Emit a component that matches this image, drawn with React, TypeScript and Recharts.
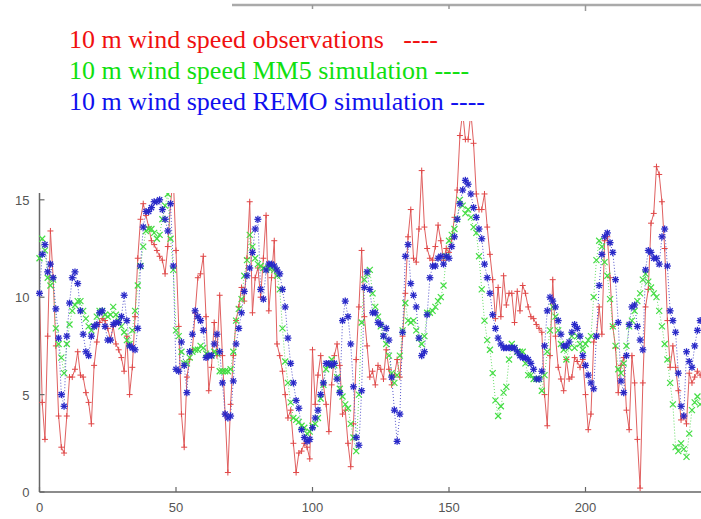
import { Line, LineChart, XAxis, YAxis } from 'recharts';

// 10 m wind speed (m/s), one value per hour
const obs = [
  10.2, 4.6, 2.7, 8.0, 13.4, 11.0, 7.5, 3.9, 2.3, 2.0,
  3.9, 5.9, 5.9, 6.3, 7.2, 6.0, 5.9, 5.1, 4.6, 3.5,
  6.5, 7.7, 8.7, 8.9, 8.8, 8.4, 7.8, 8.5, 7.6, 7.3,
  6.9, 6.2, 8.0, 5.0, 6.4, 9.0, 12.0, 14.0, 14.8, 14.2,
  13.6, 12.9, 12.7, 12.4, 12.1, 11.9, 11.2, 12.6, 14.8, 16.2,
  12.4, 8.5, 4.0, 2.3, 5.9, 6.8, 7.3, 9.2, 11.0, 11.2,
  12.1, 9.0, 5.2, 6.4, 8.7, 7.0, 10.1, 7.0, 4.0, 1.0,
  4.5, 7.0, 8.8, 9.5, 10.5, 9.8, 12.0, 14.9, 9.2, 11.0,
  11.5, 10.0, 12.0, 14.2, 9.3, 11.0, 12.9, 7.6, 7.0, 6.2,
  5.0, 3.8, 4.2, 2.5, 1.0, 2.0, 2.1, 2.5, 2.3, 1.7,
  7.3, 4.5, 6.0, 7.0, 5.5, 4.5, 3.1, 5.5, 7.0, 7.6,
  6.5, 4.0, 4.2, 2.5, 1.3, 3.5, 6.8, 9.5, 12.4, 9.0,
  7.5, 5.9, 6.2, 5.5, 6.5, 6.3, 5.8, 7.3, 6.3, 5.5,
  6.0, 6.8, 5.9, 8.0, 10.2, 13.1, 14.5, 12.0, 11.8, 13.5,
  16.5, 13.6, 12.5, 12.0, 11.9, 12.6, 13.7, 12.9, 11.9, 12.5,
  12.3, 13.0, 14.1, 15.5, 18.3, 19.5, 18.1, 18.1, 19.5, 17.9,
  15.3, 14.5, 14.5, 15.3, 13.6, 12.2, 10.9, 8.9, 10.5, 9.0,
  11.1, 9.6, 10.2, 10.2, 8.7, 10.3, 9.3, 10.6, 10.2, 9.5,
  9.0, 8.9, 8.6, 8.4, 8.2, 5.0, 3.4, 7.0, 10.9, 8.0,
  6.4, 5.8, 5.2, 6.8, 5.8, 5.9, 6.9, 6.7, 6.4, 6.8,
  5.0, 3.2, 4.0, 7.7, 8.0, 9.5, 8.1, 12.9, 13.1, 11.0,
  8.5, 7.4, 5.1, 6.5, 6.9, 4.2, 3.2, 7.0, 5.6, 2.7,
  0.2, 5.6, 9.5, 10.4, 13.8, 14.3, 16.7, 16.3, 14.9, 12.5,
  8.8, 6.4, 7.5, 6.4, 5.2, 3.7, 3.9, 3.5, 6.1, 5.6,
  5.9, 6.2, 6.0,
];

const mm5 = [
  12.0, 13.0, 12.4, 11.0, 10.6, 10.9, 8.4, 7.6, 6.9, 6.1,
  7.6, 8.6, 9.3, 9.6, 9.8, 9.8, 9.3, 8.9, 8.5, 8.3,
  8.5, 9.0, 9.3, 9.3, 9.1, 9.0, 9.1, 9.5, 9.1, 8.8,
  8.5, 8.2, 7.8, 7.6, 8.3, 9.3, 10.6, 11.6, 12.6, 13.4,
  13.5, 13.5, 13.3, 13.0, 13.2, 14.0, 14.7, 15.3, 13.0, 11.4,
  8.3, 8.0, 7.2, 6.6, 6.6, 6.9, 7.2, 7.3, 7.3, 7.5,
  7.4, 7.1, 7.0, 7.0, 7.2, 7.1, 6.2, 6.2, 6.2, 6.2,
  6.3, 7.2, 8.8, 9.4, 9.9, 11.1, 11.9, 13.2, 12.6, 12.0,
  11.7, 11.6, 11.5, 11.4, 11.5, 11.5, 11.4, 11.1, 10.4, 8.4,
  6.7, 5.6, 4.6, 3.8, 3.7, 3.6, 3.4, 3.3, 3.0, 3.1,
  3.4, 3.5, 3.8, 4.8, 5.5, 6.3, 6.5, 6.8, 6.5, 5.9,
  5.3, 4.9, 4.5, 4.3, 3.5, 2.8, 2.1, 5.0, 8.7, 10.9,
  11.2, 11.4, 10.2, 9.5, 9.0, 8.5, 8.0, 7.6, 7.0, 6.1,
  5.6, 6.0, 7.0, 8.3, 9.7, 8.8, 8.7, 8.8, 8.3, 7.9,
  7.6, 8.0, 9.2, 9.2, 9.3, 9.5, 9.8, 10.0, 10.6, 12.1,
  12.9, 13.2, 13.5, 14.0, 15.0, 14.7, 14.3, 14.5, 14.1, 13.6,
  13.3, 12.1, 10.4, 8.8, 7.8, 7.3, 6.1, 4.7, 3.9, 4.4,
  5.1, 5.4, 6.8, 7.6, 7.4, 7.2, 7.2, 7.2, 6.6, 6.0,
  6.0, 5.8, 5.8, 5.8, 5.2, 6.0, 7.2, 8.3, 9.5, 9.0,
  8.3, 7.6, 7.3, 6.8, 7.4, 8.0, 7.4, 8.0, 7.6, 7.3,
  7.6, 7.8, 8.0, 10.0, 11.9, 12.9, 12.6, 11.8, 11.1, 9.9,
  8.5, 7.5, 6.3, 6.1, 6.6, 7.5, 8.5, 8.8, 9.3, 9.8,
  10.2, 10.9, 11.2, 10.8, 10.5, 10.2, 10.0, 9.3, 8.5, 7.6,
  6.8, 5.6, 4.5, 2.3, 2.1, 2.5, 2.2, 1.8, 3.0, 4.2,
  4.6, 4.9, 4.5,
];

const remo = [
  10.2, 12.2, 12.7, 11.3, 11.7, 11.0, 9.4, 7.9, 5.0, 4.4,
  8.0, 9.7, 11.0, 11.3, 10.7, 9.3, 8.1, 7.2, 7.0, 8.0,
  8.5, 8.6, 9.2, 9.3, 8.5, 7.8, 7.8, 8.6, 8.7, 8.7,
  9.0, 10.1, 8.8, 7.5, 7.4, 7.3, 8.4, 11.6, 13.6, 14.4,
  14.4, 14.6, 14.9, 14.9, 15.0, 14.5, 14.0, 13.4, 14.8, 11.6,
  6.3, 6.2, 7.7, 6.5, 5.1, 7.2, 8.1, 9.3, 9.0, 8.8,
  8.3, 6.9, 7.0, 7.0, 7.6, 8.1, 7.2, 5.6, 4.0, 3.8,
  3.9, 5.7, 7.6, 8.4, 9.2, 10.3, 11.1, 11.5, 12.3, 13.5,
  14.0, 10.4, 9.9, 11.4, 11.7, 11.7, 11.6, 11.4, 11.2, 10.4,
  9.5, 7.9, 6.6, 5.6, 4.7, 4.3, 3.2, 2.8, 2.6, 2.7,
  3.3, 3.8, 4.2, 5.0, 5.6, 6.6, 6.6, 6.5, 6.6, 5.8,
  5.1, 8.8, 9.8, 9.0, 7.6, 5.4, 2.8, 2.4, 5.2, 10.5,
  11.3, 10.4, 9.2, 9.2, 8.7, 8.6, 8.0, 8.4, 7.8, 5.9,
  4.2, 2.6, 4.0, 8.2, 12.1, 12.7, 10.7, 10.1, 9.5, 7.9,
  7.0, 7.2, 9.1, 11.0, 11.6, 11.6, 12.0, 12.1, 11.7, 12.1,
  12.0, 12.6, 13.1, 14.0, 14.8, 15.5, 16.0, 15.8, 15.3, 14.6,
  14.1, 13.5, 13.0, 11.7, 11.0, 10.2, 9.1, 8.4, 7.9, 7.6,
  7.4, 7.4, 7.4, 7.4, 7.4, 7.2, 7.0, 6.9, 6.9, 6.8,
  6.6, 6.3, 5.8, 5.8, 6.2, 7.5, 9.3, 10.0, 9.8, 9.5,
  8.8, 8.1, 7.5, 7.5, 7.7, 8.2, 8.6, 8.4, 8.0, 7.0,
  6.5, 6.0, 5.6, 5.3, 8.0, 10.6, 12.2, 13.1, 13.3, 12.8,
  12.3, 10.9, 8.7, 5.7, 5.1, 7.0, 8.6, 9.5, 9.6, 8.5,
  7.8, 7.3, 11.4, 12.4, 12.3, 12.0, 12.0, 11.7, 13.1, 13.5,
  11.6, 9.3, 8.8, 8.2, 6.1, 4.4, 3.9, 7.2, 6.7, 6.4,
  7.5, 8.3, 8.8,
];

const xTicks = [0, 50, 100, 150, 200];
const topTicks = [100, 150, 200];
const yTicks = [0, 5, 10, 15];

const legendLines = [
  { text: '10 m wind speed observations   ----', color: '#f01010' },
  { text: '10 m wind speed MM5 simulation ----', color: '#10e010' },
  { text: '10 m wind speed REMO simulation ----', color: '#1010ee' },
];

const data = obs.map((v, i) => ({ hour: i, obs: v, mm5: mm5[i], remo: remo[i] }));

const labelStyle = { fontFamily: 'Liberation Sans, Arial, sans-serif', fontSize: 13, fill: '#555' };

function BottomTick({ x, y, payload }: any) {
  return (
    <g>
      <line x1={x} x2={x} y1={y} y2={y - 5} stroke="#666" strokeWidth={1.2} />
      <text x={x} y={y + 20} textAnchor="middle" {...labelStyle}>
        {payload.value}
      </text>
    </g>
  );
}

function TopTick({ x, y }: any) {
  return <line x1={x} x2={x} y1={y} y2={y + 6} stroke="#999" strokeWidth={1.5} />;
}

function LeftTick({ x, y, payload }: any) {
  return (
    <g>
      <line x1={x} x2={x + 5} y1={y} y2={y} stroke="#666" strokeWidth={1.2} />
      <text x={x - 10} y={y + 5} textAnchor="end" {...labelStyle}>
        {payload.value}
      </text>
    </g>
  );
}

function PlusDot({ cx, cy }: any) {
  if (cx == null || cy == null) return null;
  return (
    <g stroke="#e04848" strokeWidth={1}>
      <line x1={cx - 3} x2={cx + 3} y1={cy} y2={cy} />
      <line x1={cx} x2={cx} y1={cy - 3} y2={cy + 3} />
    </g>
  );
}

function CrossDot({ cx, cy }: any) {
  if (cx == null || cy == null) return null;
  return (
    <g stroke="#44dd44" strokeWidth={1.2}>
      <line x1={cx - 3} x2={cx + 3} y1={cy - 3} y2={cy + 3} />
      <line x1={cx - 3} x2={cx + 3} y1={cy + 3} y2={cy - 3} />
    </g>
  );
}

function StarDot({ cx, cy }: any) {
  if (cx == null || cy == null) return null;
  return (
    <g stroke="#2828c8" strokeWidth={1.3}>
      <line x1={cx - 3.5} x2={cx + 3.5} y1={cy} y2={cy} />
      <line x1={cx} x2={cx} y1={cy - 3.5} y2={cy + 3.5} />
      <line x1={cx - 2.6} x2={cx + 2.6} y1={cy - 2.6} y2={cy + 2.6} />
      <line x1={cx - 2.6} x2={cx + 2.6} y1={cy + 2.6} y2={cy - 2.6} />
    </g>
  );
}

export default function App() {
  return (
    <div
      style={{
        position: 'absolute',
        left: 0,
        top: 0,
        width: 701,
        height: 519,
        overflow: 'hidden',
        background: '#fff',
      }}
    >
      <LineChart width={722} height={519} data={data} margin={{ top: 4, right: 0, bottom: 0, left: 0 }}>
        <XAxis
          xAxisId="b"
          dataKey="hour"
          type="number"
          domain={[0, 250]}
          ticks={xTicks}
          height={27}
          tickSize={0}
          tickMargin={0}
          tickLine={false}
          axisLine={{ stroke: '#666', strokeWidth: 1.5 }}
          tick={<BottomTick />}
        />
        <XAxis
          xAxisId="t"
          orientation="top"
          dataKey="hour"
          type="number"
          domain={[0, 250]}
          ticks={topTicks}
          height={1}
          tickSize={0}
          tickMargin={0}
          tickLine={false}
          axisLine={{ stroke: '#aaa', strokeWidth: 2.5 }}
          tick={<TopTick />}
        />
        <YAxis
          domain={[0, 25]}
          ticks={yTicks}
          width={39.5}
          tickSize={0}
          tickMargin={0}
          tickLine={false}
          axisLine={{ stroke: '#666', strokeWidth: 1.5 }}
          tick={<LeftTick />}
        />
        <Line
          xAxisId="b"
          dataKey="obs"
          stroke="#e06060"
          strokeWidth={1}
          dot={<PlusDot />}
          isAnimationActive={false}
        />
        <Line
          xAxisId="b"
          dataKey="mm5"
          stroke="#66dd66"
          strokeWidth={1}
          strokeDasharray="1 2"
          dot={<CrossDot />}
          isAnimationActive={false}
        />
        <Line
          xAxisId="b"
          dataKey="remo"
          stroke="#5555cc"
          strokeWidth={1}
          strokeDasharray="1 2"
          dot={<StarDot />}
          isAnimationActive={false}
        />
      </LineChart>
      <svg width={701} height={519} style={{ position: 'absolute', left: 0, top: 0, pointerEvents: 'none' }}>
        <rect x={0} y={0} width={232} height={193} fill="#fff" />
        <rect x={232} y={9} width={270} height={112} fill="#fff" />
        {legendLines.map((l, i) => (
          <text
            key={l.text}
            x={69}
            y={48 + i * 31}
            fill={l.color}
            style={{ fontFamily: 'Liberation Serif, Times New Roman, serif', fontSize: 26, whiteSpace: 'pre' }}
          >
            {l.text}
          </text>
        ))}
      </svg>
    </div>
  );
}
